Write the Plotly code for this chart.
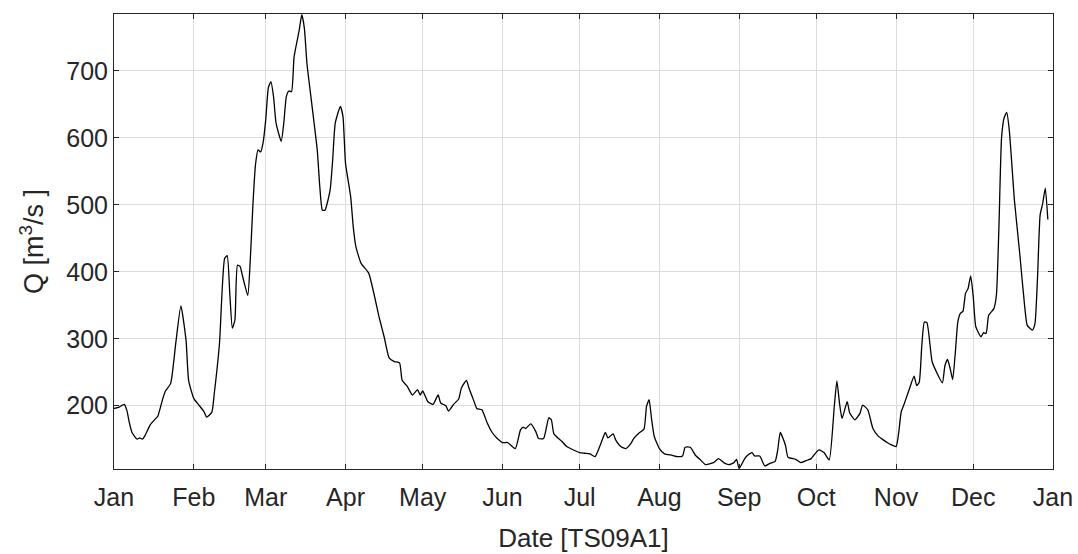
import pandas as pd
import plotly.graph_objects as go

# Daily discharge readings: day offset from 1 Jan and flow in m^3/s
day_of_year = [
    0, 2, 4, 5, 6, 7, 9, 10, 11, 12, 14, 16, 17, 19, 20, 22, 24, 26, 28, 29,
    31, 33, 35, 36, 38, 39, 41, 43, 44, 45, 46, 47, 48, 49, 50, 52, 53, 54, 55, 56,
    57, 58, 59, 60, 61, 62, 63, 65, 66, 67, 68, 69, 70, 72, 73, 74, 75, 77, 79, 80,
    81, 82, 84, 85, 86, 88, 89, 90, 92, 93, 94, 96, 99, 101, 103, 105, 107, 109, 111, 112,
    114, 116, 118, 119, 120, 122, 124, 126, 127, 129, 130, 132, 134, 135, 137, 138, 140, 141, 143, 145,
    147, 149, 151, 153, 156, 158, 159, 160, 162, 164, 165, 167, 169, 170, 171, 174, 176, 178, 181, 183,
    185, 187, 189, 191, 192, 194, 195, 197, 199, 201, 202, 204, 206, 207, 208, 209, 210, 212, 214, 217,
    219, 221, 222, 224, 226, 228, 230, 233, 235, 237, 239, 241, 242, 243, 245, 246, 248, 249, 251, 253,
    255, 257, 258, 259, 261, 262, 265, 267, 269, 271, 272, 274, 276, 278, 280, 281, 282, 283, 285, 286,
    288, 290, 291, 293, 295, 297, 299, 301, 302, 304, 305, 306, 307, 309, 311, 312, 313, 314, 315, 316,
    318, 320, 322, 323, 324, 325, 326, 327, 328, 329, 330, 331, 332, 333, 334, 335, 337, 338, 339, 340,
    342, 343, 344, 345, 346, 347, 348, 350, 352, 354, 355, 357, 358, 359, 360, 361, 362, 363,
]
discharge = [
    196, 198, 202, 193, 174, 160, 150, 152, 150, 155, 171, 180, 184, 211, 222, 233, 293, 349, 298, 238,
    211, 201, 191, 183, 190, 219, 293, 420, 424, 368, 316, 328, 410, 408, 393, 365, 420, 500, 560, 582,
    579, 594, 628, 675, 684, 662, 622, 595, 622, 662, 670, 669, 721, 761, 784, 764, 711, 647, 582, 527,
    492, 492, 522, 567, 622, 647, 632, 562, 512, 467, 438, 413, 398, 368, 333, 303, 271, 266, 264, 238,
    229, 216, 224, 216, 222, 206, 202, 216, 204, 200, 192, 202, 210, 226, 238, 226, 206, 196, 194, 175,
    160, 151, 145, 145, 136, 164, 168, 166, 173, 161, 151, 151, 182, 179, 158, 147, 139, 135, 130, 129,
    128, 124, 141, 160, 152, 158, 149, 139, 136, 144, 151, 159, 165, 199, 209, 179, 154, 136, 128, 126,
    124, 125, 138, 138, 126, 119, 112, 115, 121, 115, 112, 115, 120, 106, 120, 125, 130, 125, 125, 110,
    114, 117, 134, 160, 141, 123, 120, 115, 118, 121, 126, 134, 130, 119, 200, 237, 204, 181, 206, 189,
    179, 189, 201, 194, 166, 155, 149, 144, 142, 139, 159, 191, 201, 223, 244, 230, 235, 290, 325, 324,
    266, 248, 234, 260, 269, 256, 239, 278, 325, 338, 341, 368, 375, 394, 363, 318, 303, 309, 308, 335,
    345, 365, 470, 600, 630, 638, 612, 507, 430, 348, 320, 313, 323, 393, 485, 502, 525, 478,
]

year_start = pd.Timestamp("2009-01-01")
dates = year_start + pd.to_timedelta(day_of_year, unit="D")

month_ticks = pd.date_range("2009-01-01", "2010-01-01", freq="MS")
month_labels = ["Jan", "Feb", "Mar", "Apr", "May", "Jun", "Jul",
                "Aug", "Sep", "Oct", "Nov", "Dec", "Jan"]
y_ticks = [200, 300, 400, 500, 600, 700]

axis_color = "#262626"
grid_color = "#dcdcdc"
font_family = "Liberation Sans, Arial, Helvetica, sans-serif"

fig = go.Figure(
    go.Scatter(
        x=dates,
        y=discharge,
        mode="lines",
        line=dict(color="black", width=1.3, shape="spline", smoothing=0.5),
        showlegend=False,
        cliponaxis=True,
    )
)

common_axis = dict(
    showline=True,
    linecolor=axis_color,
    linewidth=1,
    mirror="allticks",
    ticks="inside",
    ticklen=5,
    tickwidth=1,
    tickcolor=axis_color,
    showgrid=True,
    gridcolor=grid_color,
    gridwidth=1,
    zeroline=False,
    automargin=False,
    tickfont=dict(family=font_family, size=25, color=axis_color),
)

fig.update_xaxes(
    **common_axis,
    range=["2009-01-01", "2010-01-01"],
    tickvals=month_ticks,
    ticktext=month_labels,
    ticklabelstandoff=6,
    title=dict(text="Date [TS09A1]", font=dict(family=font_family, size=26, color=axis_color), standoff=18),
)
fig.update_yaxes(
    **common_axis,
    range=[105.5, 785],
    tickvals=y_ticks,
    ticktext=[str(v) for v in y_ticks],
    title=dict(text="Q [m<sup>3</sup>/s ]", font=dict(family=font_family, size=27, color=axis_color), standoff=14),
)

fig.update_layout(
    width=1078,
    height=554,
    margin=dict(l=114, r=25, t=14, b=85),
    paper_bgcolor="white",
    plot_bgcolor="white",
)

fig.write_html("out.html")
